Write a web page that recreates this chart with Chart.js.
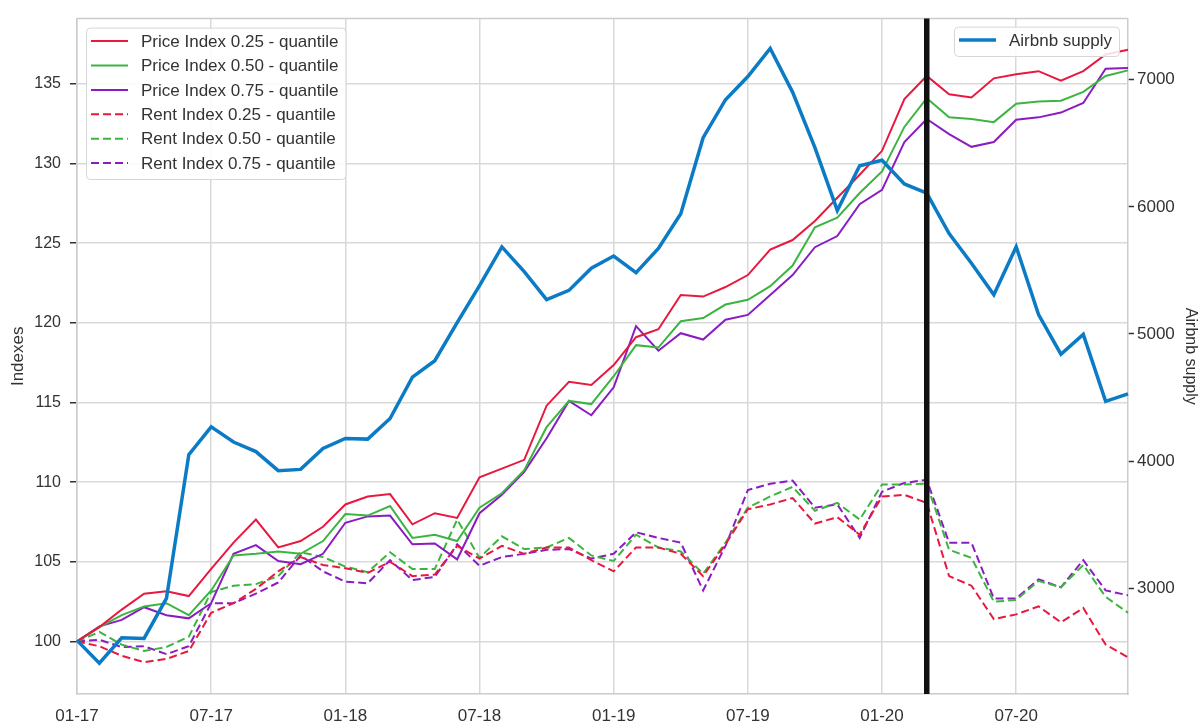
<!DOCTYPE html>
<html>
<head>
<meta charset="utf-8">
<script src="https://cdn.jsdelivr.net/npm/chart.js@4.4.0/dist/chart.umd.min.js"></script>
<style>
  html, body { margin: 0; padding: 0; background: #fff; }
  #wrap { width: 1204px; height: 728px; }
</style>
</head>
<body>
<div id="wrap"><canvas id="chart" width="1204" height="728"></canvas></div>
<script>
const months = [
    '01-17', '02-17', '03-17', '04-17', '05-17', '06-17', '07-17', '08-17', '09-17', '10-17', '11-17', '12-17',
    '01-18', '02-18', '03-18', '04-18', '05-18', '06-18', '07-18', '08-18', '09-18', '10-18', '11-18', '12-18',
    '01-19', '02-19', '03-19', '04-19', '05-19', '06-19', '07-19', '08-19', '09-19', '10-19', '11-19', '12-19',
    '01-20', '02-20', '03-20', '04-20', '05-20', '06-20', '07-20', '08-20', '09-20', '10-20', '11-20', '12-20'
];
const tickLabels = ['01-17', '07-17', '01-18', '07-18', '01-19', '07-19', '01-20', '07-20'];
const indexTicks = [100, 105, 110, 115, 120, 125, 130, 135];
const supplyTicks = [3000, 4000, 5000, 6000, 7000];
const markerMonth = '03-20';

const price25 = [
    100, 100.9, 102.0, 103.0, 103.15, 102.85, 104.55, 106.2, 107.65, 105.9, 106.3, 107.2,
    108.6, 109.1, 109.25, 107.35, 108.05, 107.75, 110.3, 110.85, 111.4, 114.8, 116.3, 116.1,
    117.35, 119.1, 119.6, 121.75, 121.65, 122.25, 123.0, 124.6, 125.2, 126.4, 127.85, 129.3,
    130.8, 134.05, 135.5, 134.35, 134.15, 135.35, 135.6, 135.8, 135.2, 135.8, 136.85, 137.15
];
const price50 = [
    100, 100.9, 101.65, 102.2, 102.4, 101.65, 103.2, 105.4, 105.5, 105.65, 105.5, 106.3,
    108.0, 107.9, 108.5, 106.5, 106.7, 106.3, 108.4, 109.3, 110.75, 113.45, 115.1, 114.9,
    116.65, 118.6, 118.45, 120.1, 120.3, 121.15, 121.45, 122.3, 123.6, 126.0, 126.6, 128.15,
    129.5, 132.3, 134.1, 132.9, 132.8, 132.6, 133.75, 133.9, 133.95, 134.5, 135.5, 135.85
];
const price75 = [
    100, 100.95, 101.35, 102.15, 101.65, 101.45, 102.4, 105.5, 106.05, 105.05, 104.85, 105.5,
    107.45, 107.85, 107.9, 106.1, 106.15, 105.15, 108.05, 109.2, 110.65, 112.75, 115.1, 114.2,
    115.95, 119.8, 118.25, 119.35, 118.95, 120.2, 120.5, 121.75, 123.0, 124.75, 125.45, 127.45,
    128.35, 131.35, 132.8, 131.85, 131.05, 131.35, 132.75, 132.9, 133.2, 133.8, 135.95, 136.0
];
const rent25 = [
    100, 99.7, 99.1, 98.7, 98.9, 99.4, 101.8, 102.4, 103.3, 104.4, 105.3, 104.8,
    104.6, 104.3, 105.0, 104.1, 104.2, 106.0, 105.2, 106.0, 105.5, 105.9, 105.9, 105.1,
    104.4, 105.9, 105.9, 105.5, 104.1, 106.1, 108.3, 108.6, 109.0, 107.4, 107.8, 106.7,
    109.1, 109.2, 108.7, 104.1, 103.5, 101.4, 101.7, 102.2, 101.2, 102.1, 99.8, 99.0
];
const rent50 = [
    100, 100.6, 99.8, 99.4, 99.65, 100.3, 103.1, 103.5, 103.6, 104.1, 105.6, 105.3,
    104.7, 104.35, 105.6, 104.55, 104.55, 107.65, 105.25, 106.6, 105.8, 105.9, 106.5, 105.4,
    105.05, 106.7, 105.9, 105.65, 104.25, 106.2, 108.4, 109.1, 109.7, 108.2, 108.7, 107.65,
    109.85, 109.85, 109.9, 105.75, 105.25, 102.5, 102.6, 103.8, 103.4, 104.8, 102.8, 101.8
];
const rent75 = [
    100, 100.1, 99.65, 99.7, 99.2, 99.7, 102.4, 102.4, 103.0, 103.7, 105.4, 104.4,
    103.75, 103.65, 105.1, 103.85, 104.05, 106.1, 104.75, 105.3, 105.5, 105.75, 105.8, 105.2,
    105.5, 106.85, 106.5, 106.2, 103.2, 106.0, 109.5, 109.9, 110.1, 108.4, 108.6, 106.5,
    109.4, 109.95, 110.15, 106.2, 106.2, 102.7, 102.7, 103.9, 103.4, 105.1, 103.2, 102.9
];
const airbnbSupply = [
    2590, 2410, 2610, 2605, 2920, 4050, 4270, 4150, 4075, 3925, 3935, 4100,
    4178, 4173, 4335, 4660, 4790, 5090, 5380, 5685, 5490, 5270, 5343, 5517,
    5613, 5483, 5673, 5946, 6544, 6843, 7025, 7246, 6903, 6466, 5972, 6323,
    6367, 6180, 6108, 5790, 5556, 5309, 5686, 5153, 4841, 4997, 4470, 4529
];

const RED = '#e8193f';
const GREEN = '#3cb540';
const PURPLE = '#8a1cc2';
const BLUE = '#0a7bc4';
const GRID = '#d9d9d9';
const SPINE = '#cccccc';
const TEXT = '#333333';
const FONT = '"Liberation Sans", Arial, sans-serif';
const FS = 17;

function line(label, data, color, dashed) {
    return {
        label: label,
        data: data,
        borderColor: color,
        backgroundColor: color,
        borderWidth: 2,
        borderDash: dashed ? [8, 4] : [],
        pointRadius: 0,
        tension: 0,
        yAxisID: 'y',
        order: 1
    };
}

const leftSets = [
    line('Price Index 0.25 - quantile', price25, RED, false),
    line('Price Index 0.50 - quantile', price50, GREEN, false),
    line('Price Index 0.75 - quantile', price75, PURPLE, false),
    line('Rent Index 0.25 - quantile', rent25, RED, true),
    line('Rent Index 0.50 - quantile', rent50, GREEN, true),
    line('Rent Index 0.75 - quantile', rent75, PURPLE, true)
];
const supplySet = {
    label: 'Airbnb supply',
    data: airbnbSupply,
    borderColor: BLUE,
    backgroundColor: BLUE,
    borderWidth: 3.5,
    pointRadius: 0,
    tension: 0,
    yAxisID: 'y1',
    order: 0
};

// draws a legend box with line samples at (x, y)
function drawLegend(ctx, sets, x, y, alignRight) {
    ctx.font = FS + 'px ' + FONT;
    const rowH = 24.4;
    const sample = 37;
    const gap = 13;
    let maxW = 0;
    sets.forEach(function(s) { maxW = Math.max(maxW, ctx.measureText(s.label).width); });
    const w = 5 + sample + gap + maxW + 7;
    const h = sets.length * rowH + 5;
    if (alignRight) x = x - w;
    ctx.save();
    ctx.fillStyle = 'rgba(255,255,255,0.85)';
    ctx.strokeStyle = '#d6d6d6';
    ctx.lineWidth = 1;
    ctx.beginPath();
    ctx.roundRect(x + 0.5, y + 0.5, w, h, 4);
    ctx.fill();
    ctx.stroke();
    sets.forEach(function(s, i) {
        const cy = y + 13.5 + i * rowH;
        ctx.strokeStyle = s.borderColor;
        ctx.lineWidth = s.borderWidth;
        ctx.setLineDash(s.borderDash || []);
        ctx.beginPath();
        ctx.moveTo(x + 5, cy);
        ctx.lineTo(x + 5 + sample, cy);
        ctx.stroke();
        ctx.setLineDash([]);
        ctx.fillStyle = TEXT;
        ctx.textBaseline = 'middle';
        ctx.textAlign = 'left';
        ctx.fillText(s.label, x + 5 + sample + gap, cy + 1);
    });
    ctx.restore();
}

const overlay = {
    id: 'overlay',
    afterDatasetsDraw: function(chart) {
        const ctx = chart.ctx;
        const area = chart.chartArea;
        const xs = chart.scales.x;
        ctx.save();
        // top spine
        ctx.strokeStyle = SPINE;
        ctx.lineWidth = 1.5;
        ctx.beginPath();
        ctx.moveTo(area.left, area.top);
        ctx.lineTo(area.right, area.top);
        ctx.stroke();
        // event marker
        const mx = xs.getPixelForValue(months.indexOf(markerMonth));
        ctx.strokeStyle = '#111111';
        ctx.lineWidth = 5.5;
        ctx.beginPath();
        ctx.moveTo(mx, area.top);
        ctx.lineTo(mx, area.bottom);
        ctx.stroke();
        ctx.restore();
    },
    afterDraw: function(chart) {
        const area = chart.chartArea;
        drawLegend(chart.ctx, leftSets, area.left + 9, area.top + 9, false);
        drawLegend(chart.ctx, [supplySet], area.right - 9, area.top + 8, true);
    }
};

function fixedTicks(values) {
    return function(scale) {
        scale.ticks = values.map(function(v) { return { value: v }; });
    };
}

new Chart(document.getElementById('chart').getContext('2d'), {
    type: 'line',
    data: {
        labels: months,
        datasets: [supplySet].concat(leftSets)
    },
    options: {
        responsive: false,
        animation: false,
        layout: { padding: { top: 13, left: 0, right: 0, bottom: 0 } },
        plugins: {
            legend: { display: false },
            tooltip: { enabled: false }
        },
        scales: {
            x: {
                type: 'category',
                grid: {
                    color: function(c) { return tickLabels.includes(months[c.index]) ? GRID : 'rgba(0,0,0,0)'; },
                    lineWidth: 1.5,
                    drawTicks: false
                },
                border: { color: SPINE, width: 1.5 },
                ticks: {
                    autoSkip: false,
                    maxRotation: 0,
                    padding: 12,
                    color: TEXT,
                    font: { family: FONT, size: FS },
                    callback: function(value, index) {
                        return tickLabels.includes(months[index]) ? months[index] : '';
                    }
                },
                afterFit: function(s) { s.height = 34; }
            },
            y: {
                position: 'left',
                min: 96.7,
                max: 139.1,
                afterBuildTicks: fixedTicks(indexTicks),
                grid: { color: GRID, lineWidth: 1.5, tickColor: TEXT, tickLength: 7, tickWidth: 1.5 },
                border: { color: SPINE, width: 1.5 },
                ticks: {
                    padding: 9,
                    color: TEXT,
                    font: { family: FONT, size: FS - 1 }
                },
                title: {
                    display: true,
                    text: 'Indexes',
                    color: TEXT,
                    font: { family: FONT, size: FS },
                    padding: { top: 8, bottom: 0 }
                },
                afterFit: function(s) { s.width = 77; }
            },
            y1: {
                position: 'right',
                min: 2168,
                max: 7481,
                afterBuildTicks: fixedTicks(supplyTicks),
                grid: { drawOnChartArea: false, tickColor: TEXT, tickLength: 6, tickWidth: 1.5 },
                border: { color: SPINE, width: 1.5 },
                ticks: {
                    padding: 3,
                    color: TEXT,
                    font: { family: FONT, size: FS },
                    callback: function(v) { return String(v); }
                },
                title: {
                    display: true,
                    text: 'Airbnb supply',
                    color: TEXT,
                    font: { family: FONT, size: FS - 1 },
                    padding: { top: 4, bottom: 0 }
                },
                afterFit: function(s) { s.width = 76; }
            }
        }
    },
    plugins: [overlay]
});
</script>
</body>
</html>
